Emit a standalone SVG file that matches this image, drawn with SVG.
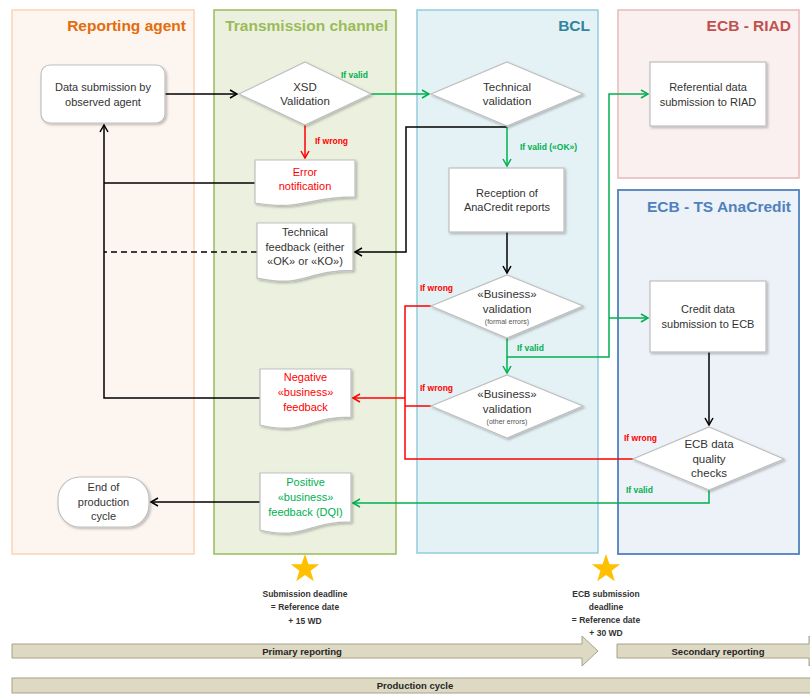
<svg xmlns="http://www.w3.org/2000/svg" width="810" height="698" viewBox="0 0 810 698">
<style>
text{font-family:"Liberation Sans",Arial,sans-serif;}
.title{font-size:15.5px;font-weight:bold;text-anchor:end;}
.t{font-size:11px;fill:#333333;text-anchor:middle;}
.td{font-size:11.5px;fill:#333333;text-anchor:middle;}
.ts{font-size:7px;fill:#555555;text-anchor:middle;}
.red{fill:#FF0000;}
.grn{fill:#00B050;}
.lbl{font-size:8.5px;font-weight:bold;}
.bt{font-size:8.5px;font-weight:bold;fill:#333333;text-anchor:middle;}
.bar{font-size:9.5px;font-weight:bold;fill:#262626;text-anchor:middle;}
.node{fill:#FFFFFF;stroke:#BFBFBF;stroke-width:1.2;filter:url(#sh);}
.c{fill:none;stroke-width:1.5;}
.k{stroke:#000000;}
.r{stroke:#FF0000;}
.g{stroke:#00B050;}
.barshape{fill:#DDD9C3;stroke:#A6A28A;stroke-width:1;}
.star{fill:#FFC000;}
</style>
<defs>
<filter id="sh" x="-10%" y="-10%" width="130%" height="140%">
<feDropShadow dx="1.5" dy="1.5" stdDeviation="1.2" flood-color="#000000" flood-opacity="0.25"/>
</filter>
<marker id="ak" markerWidth="10" markerHeight="10" refX="8" refY="5" orient="auto" markerUnits="userSpaceOnUse">
<path d="M1,1 L8,5 L1,9" fill="none" stroke="#000000" stroke-width="1.5"/>
</marker>
<marker id="ar" markerWidth="10" markerHeight="10" refX="8" refY="5" orient="auto" markerUnits="userSpaceOnUse">
<path d="M1,1 L8,5 L1,9" fill="none" stroke="#FF0000" stroke-width="1.5"/>
</marker>
<marker id="ag" markerWidth="10" markerHeight="10" refX="8" refY="5" orient="auto" markerUnits="userSpaceOnUse">
<path d="M1,1 L8,5 L1,9" fill="none" stroke="#00B050" stroke-width="1.5"/>
</marker>
<polygon id="starshape" points="0,-15 3.47,-4.77 14.27,-4.64 5.61,1.82 8.82,12.14 0,5.9 -8.82,12.14 -5.61,1.82 -14.27,-4.64 -3.47,-4.77"/>
</defs>

<g id="lanes">
<g id="lane-reporting-agent">
<rect x="12" y="10" width="182" height="544" fill="#FDF5F0" stroke="#FBD4B4" stroke-width="1.5"/>
<text class="title" x="186" y="31" fill="#E46C0A">Reporting agent</text>
</g>
<g id="lane-transmission">
<rect x="214" y="10" width="182" height="544" fill="#EBF1DE" stroke="#9BBB59" stroke-width="1.5"/>
<text class="title" x="388" y="31" fill="#9BBB59">Transmission channel</text>
</g>
<g id="lane-bcl">
<rect x="417" y="10" width="181" height="543" fill="#E4F1F5" stroke="#92CDDC" stroke-width="1.5"/>
<text class="title" x="590" y="31" fill="#31849B">BCL</text>
</g>
<g id="lane-riad">
<rect x="618" y="10" width="181" height="168" fill="#FAF0F0" stroke="#E6B9B8" stroke-width="1.5"/>
<text class="title" x="791" y="31" fill="#C0504D">ECB - RIAD</text>
</g>
<g id="lane-ts">
<rect x="618" y="190" width="181" height="364" fill="#EDF1F8" stroke="#4F81BD" stroke-width="1.8"/>
<text class="title" x="791" y="212" fill="#4F81BD">ECB - TS AnaCredit</text>
</g>
</g>

<g id="connectors">
<path class="c k" d="M165,94 H237" marker-end="url(#ak)"/>
<path class="c g" d="M371,94 H429" marker-end="url(#ag)"/>
<path class="c r" d="M305,125 V158" marker-end="url(#ar)"/>
<path class="c k" d="M255,183 H104"/>
<path class="c k" d="M260,398 H104 V125" marker-end="url(#ak)"/>
<path class="c k" d="M507,127 H406 V252 H355" marker-end="url(#ak)"/>
<path class="c k" d="M257,252 H104" stroke-dasharray="6,4"/>
<path class="c g" d="M507,127 V166" marker-end="url(#ag)"/>
<path class="c k" d="M507,232 V273" marker-end="url(#ak)"/>
<path class="c g" d="M507,338 V373" marker-end="url(#ag)"/>
<path class="c g" d="M507,357 H609 V94 H648" marker-end="url(#ag)"/>
<path class="c g" d="M609,318 H648" marker-end="url(#ag)"/>
<path class="c r" d="M633,459 H405 V306 H431"/>
<path class="c r" d="M431,406 H405"/>
<path class="c r" d="M405,398 H353" marker-end="url(#ar)"/>
<path class="c k" d="M709,352 V425" marker-end="url(#ak)"/>
<path class="c g" d="M709,490 V503 H353" marker-end="url(#ag)"/>
<path class="c k" d="M260,502 H151" marker-end="url(#ak)"/>
<text class="lbl grn" x="341" y="78">If valid</text>
<text class="lbl red" x="315" y="144">If wrong</text>
<text class="lbl grn" x="520" y="150">If valid («OK»)</text>
<text class="lbl red" x="420" y="291">If wrong</text>
<text class="lbl grn" x="517" y="351">If valid</text>
<text class="lbl red" x="420" y="391">If wrong</text>
<text class="lbl red" x="624" y="441">If wrong</text>
<text class="lbl grn" x="626" y="493">If valid</text>
</g>

<g id="node-data-submission">
<rect class="node" x="41" y="65" width="124" height="58" rx="9"/>
<text class="t" x="103" y="91">Data submission by</text>
<text class="t" x="103" y="106">observed agent</text>
</g>
<g id="node-xsd">
<polygon class="node" points="305,62 371,94 305,125 239,94"/>
<text class="td" x="305" y="91">XSD</text>
<text class="td" x="305" y="105">Validation</text>
</g>
<g id="node-error">
<path class="node" d="M255,160 H355 V196.9 C305,196.9 305,210.9 255,203 Z"/>
<text class="t red" x="305" y="176">Error</text>
<text class="t red" x="305" y="190">notification</text>
</g>
<g id="node-tech-feedback">
<path class="node" d="M257,223 H353 V270.3 C305,270.3 305,288.3 257,278.1 Z"/>
<text class="t" x="305" y="236">Technical</text>
<text class="t" x="305" y="251">feedback (either</text>
<text class="t" x="305" y="265">«OK» or «KO»)</text>
</g>
<g id="node-tech-validation">
<polygon class="node" points="507,62 583,94 507,126 431,94"/>
<text class="td" x="507" y="91">Technical</text>
<text class="td" x="507" y="105">validation</text>
</g>
<g id="node-reception">
<rect class="node" x="449" y="168" width="115" height="64"/>
<text class="t" x="507" y="197">Reception of</text>
<text class="t" x="507" y="211">AnaCredit reports</text>
</g>
<g id="node-business-formal">
<polygon class="node" points="507,275 583,306 507,338 431,306"/>
<text class="td" x="507" y="298">«Business»</text>
<text class="td" x="507" y="313">validation</text>
<text class="ts" x="507" y="324">(formal errors)</text>
</g>
<g id="node-business-other">
<polygon class="node" points="507,375 583,406 507,438 431,406"/>
<text class="td" x="507" y="398">«Business»</text>
<text class="td" x="507" y="413">validation</text>
<text class="ts" x="507" y="424">(other errors)</text>
</g>
<g id="node-riad">
<rect class="node" x="650" y="62" width="116" height="64"/>
<text class="t" x="708" y="91">Referential data</text>
<text class="t" x="708" y="106">submission to RIAD</text>
</g>
<g id="node-credit">
<rect class="node" x="650" y="281" width="116" height="71"/>
<text class="t" x="708" y="313">Credit data</text>
<text class="t" x="708" y="328">submission to ECB</text>
</g>
<g id="node-ecb-dq">
<polygon class="node" points="709,427 784,459 709,490 633,459"/>
<text class="td" x="709" y="448">ECB data</text>
<text class="td" x="709" y="463">quality</text>
<text class="td" x="709" y="477">checks</text>
</g>
<g id="node-negative">
<path class="node" d="M260,369 H351 V417.1 C305.5,417.1 305.5,435.4 260,425 Z"/>
<text class="t red" x="305.5" y="381">Negative</text>
<text class="t red" x="305.5" y="396">«business»</text>
<text class="t red" x="305.5" y="411">feedback</text>
</g>
<g id="node-positive">
<path class="node" d="M260,473 H351 V521.9 C305.5,521.9 305.5,540.5 260,530 Z"/>
<text class="t grn" x="305.5" y="486">Positive</text>
<text class="t grn" x="305.5" y="501">«business»</text>
<text class="t grn" x="305.5" y="516">feedback (DQI)</text>
</g>
<g id="node-end">
<rect class="node" x="58" y="477" width="91" height="50" rx="22" ry="22"/>
<text class="t" x="103.5" y="491">End of</text>
<text class="t" x="103.5" y="506">production</text>
<text class="t" x="103.5" y="520">cycle</text>
</g>

<g id="timeline">
<use href="#starshape" class="star" x="305" y="569"/>
<use href="#starshape" class="star" x="606" y="569"/>
<text class="bt" x="305" y="597">Submission deadline</text>
<text class="bt" x="305" y="610">= Reference date</text>
<text class="bt" x="305" y="624">+ 15 WD</text>
<text class="bt" x="606" y="597">ECB submission</text>
<text class="bt" x="606" y="610">deadline</text>
<text class="bt" x="606" y="623">= Reference date</text>
<text class="bt" x="606" y="636">+ 30 WD</text>
<polygon class="barshape" points="12,644 582,644 582,636 598,651 582,666 582,658 12,658"/>
<text class="bar" x="302" y="655">Primary reporting</text>
<polygon class="barshape" points="617,644 809,644 809,636 825,651 809,666 809,658 617,658"/>
<text class="bar" x="718" y="655">Secondary reporting</text>
<rect class="barshape" x="12" y="678" width="810" height="15"/>
<text class="bar" x="415" y="689">Production cycle</text>
</g>
</svg>
